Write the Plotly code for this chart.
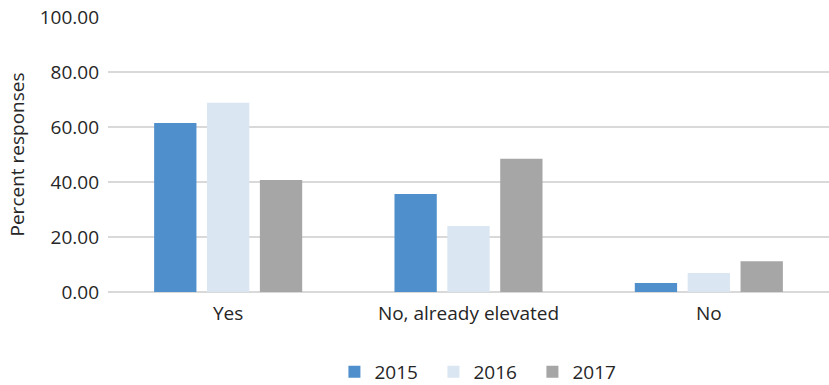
import plotly.graph_objects as go

categories = ["Yes", "No, already elevated", "No"]
years = ["2015", "2016", "2017"]
values_2015 = [61.5, 35.6, 3.3]
values_2016 = [68.8, 24.0, 6.9]
values_2017 = [40.7, 48.5, 11.2]
colors = ["#4f8fcb", "#dae6f2", "#a6a6a6"]
y_ticks = [0, 20, 40, 60, 80, 100]
y_tick_labels = ["0.00", "20.00", "40.00", "60.00", "80.00", "100.00"]

fig = go.Figure()
for name, vals, col in zip(years, [values_2015, values_2016, values_2017], colors):
    fig.add_trace(go.Bar(x=categories, y=vals, name=name, marker_color=col,
                         marker_line_width=0))

fig.update_layout(
    width=829, height=385,
    margin=dict(l=108, r=0, t=17, b=93, autoexpand=False),
    paper_bgcolor="white", plot_bgcolor="white",
    barmode="group", bargap=0.34, bargroupgap=0.2,
    font=dict(family="Open Sans", size=19, color="#262626"),
    legend=dict(orientation="h", x=0.52, xanchor="center",
                yref="container", y=0.034, yanchor="middle",
                font=dict(size=19), entrywidth=54, entrywidthmode="pixels",
                traceorder="normal"),
    showlegend=True,
)
fig.update_yaxes(range=[0, 100], tickvals=y_ticks, ticktext=y_tick_labels,
                 showgrid=True, gridcolor="#d9d9d9", gridwidth=1.5,
                 zeroline=True, zerolinecolor="#d9d9d9", zerolinewidth=1.5,
                 showline=False, ticks="", ticklabelstandoff=8, automargin=False,
                 title=dict(text="Percent responses", font=dict(size=19), standoff=10))
fig.update_xaxes(showline=False, ticks="", tickfont=dict(size=19), ticklabelstandoff=8,
                 automargin=False)

fig.write_html("out.html")
